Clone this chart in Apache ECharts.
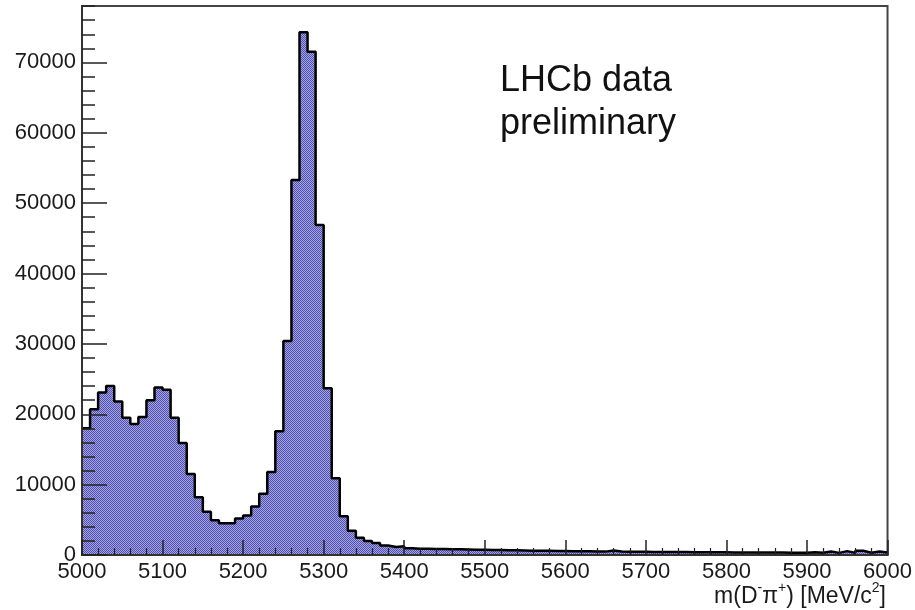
<!DOCTYPE html>
<html>
<head>
<meta charset="utf-8">
<script src="https://cdn.jsdelivr.net/npm/echarts@6/dist/echarts.min.js"></script>
<style>
  html, body { margin: 0; padding: 0; background: #ffffff; }
  #chart { width: 915px; height: 610px; }
</style>
</head>
<body>
<div id="chart"></div>
<script>
// m(D-pi+) spectrum: 100 bins of 10 MeV/c^2 between 5000 and 6000
const xMin = 5000;
const xMax = 6000;
const binWidth = 10;

// entries per bin, from the lowest-mass bin upwards
const counts = [
  18000, 20700, 23100, 24000, 21800, 19500, 18600, 19600, 22000, 23800,
  23500, 19500, 15900, 11500, 8200, 6150, 4950, 4500, 4500, 5200,
  5600, 6900, 8700, 11800, 17600, 30400, 53300, 74300, 71500, 46900,
  23700, 10900, 5500, 3450, 2450, 2000, 1700, 1350, 1150, 1250,
  950, 900, 880, 860, 840, 820, 800, 780, 760, 740,
  720, 700, 680, 660, 640, 620, 600, 590, 570, 560,
  540, 530, 520, 500, 480, 650, 500, 470, 460, 450,
  440, 430, 420, 420, 410, 400, 400, 390, 380, 380,
  370, 370, 360, 360, 350, 350, 340, 330, 330, 320,
  400, 320, 500, 300, 550, 300, 600, 330, 500, 350
];

// axis layout
const xMajorStep = 100;
const yMajorStep = 10000;
const yMinorStep = 2000;

const fontFamily = '"Liberation Sans", Arial, Helvetica, sans-serif';

// histogram outline as a stepped line through the bin edges
const stepData = counts.map((c, i) => [xMin + i * binWidth, c]);
stepData.push([xMax, counts[counts.length - 1]]);
const yMax = 1.05 * Math.max(...counts);

// dotted hatch fill
const hatch = document.createElement('canvas');
hatch.width = 2;
hatch.height = 2;
const hctx = hatch.getContext('2d');
hctx.fillStyle = '#a4a4de';
hctx.fillRect(0, 0, 2, 2);
hctx.fillStyle = '#5050b2';
hctx.fillRect(0, 0, 1, 1);
hctx.fillRect(1, 1, 1, 1);

const chart = echarts.init(document.getElementById('chart'), null, { renderer: 'canvas' });

const labelStyle = {
  fontFamily: fontFamily, fontSize: 22, color: '#1a1a1a',
  formatter: (v) => String(Math.round(v))
};

chart.setOption({
  animation: false,
  backgroundColor: '#ffffff',
  grid: {
    left: 82, right: 26, top: 6, bottom: 55,
    show: true, borderColor: '#444444', borderWidth: 2,
    backgroundColor: 'transparent'
  },
  xAxis: [{
    type: 'value', min: xMin, max: xMax, interval: xMajorStep,
    position: 'bottom', z: 5,
    axisLine: { show: true, onZero: false, lineStyle: { color: '#333333', width: 2 } },
    axisTick: { show: true, inside: true, length: 15, lineStyle: { color: '#222222', width: 1.5 } },
    minorTick: { show: true, splitNumber: 5, length: 7, lineStyle: { color: '#222222', width: 1.2 } },
    axisLabel: Object.assign({ margin: 6 }, labelStyle),
    splitLine: { show: false }
  }],
  yAxis: [{
    type: 'value', min: 0, max: yMax, interval: yMajorStep,
    position: 'left', z: 5,
    axisLine: { show: true, lineStyle: { color: '#333333', width: 2 } },
    axisTick: { show: true, inside: true, length: 25, lineStyle: { color: '#222222', width: 1.5 } },
    axisLabel: Object.assign({ margin: 6, showMaxLabel: false }, labelStyle),
    splitLine: { show: false }
  }, {
    type: 'value', min: 0, max: yMax, interval: yMinorStep,
    position: 'left', offset: 0, z: 5,
    axisLine: { show: false },
    axisTick: { show: true, inside: true, length: 13, lineStyle: { color: '#222222', width: 1.5 } },
    axisLabel: { show: false },
    splitLine: { show: false }
  }],
  series: [{
    type: 'line',
    xAxisIndex: 0,
    yAxisIndex: 0,
    step: 'end',
    symbol: 'none',
    data: stepData,
    lineStyle: { color: '#000000', width: 2.5 },
    areaStyle: { color: { image: hatch, repeat: 'repeat' }, opacity: 1, origin: 'start' },
    z: 2
  }],
  graphic: [{
    type: 'text',
    left: 500,
    top: 60,
    style: {
      text: 'LHCb data\npreliminary',
      font: '36px ' + fontFamily,
      fill: '#111111',
      lineHeight: 43
    }
  }, {
    type: 'text',
    right: 29,
    top: 581,
    style: {
      text: '{n|m(D}{s|-}{n|π}{s|+}{n|) [MeV/c}{s|2}{n|]}',
      rich: {
        n: { fontFamily: fontFamily, fontSize: 23, fill: '#1a1a1a', lineHeight: 27, verticalAlign: 'bottom' },
        s: { fontFamily: fontFamily, fontSize: 14, fill: '#1a1a1a', lineHeight: 27, verticalAlign: 'top' }
      }
    }
  }]
});
</script>
</body>
</html>
